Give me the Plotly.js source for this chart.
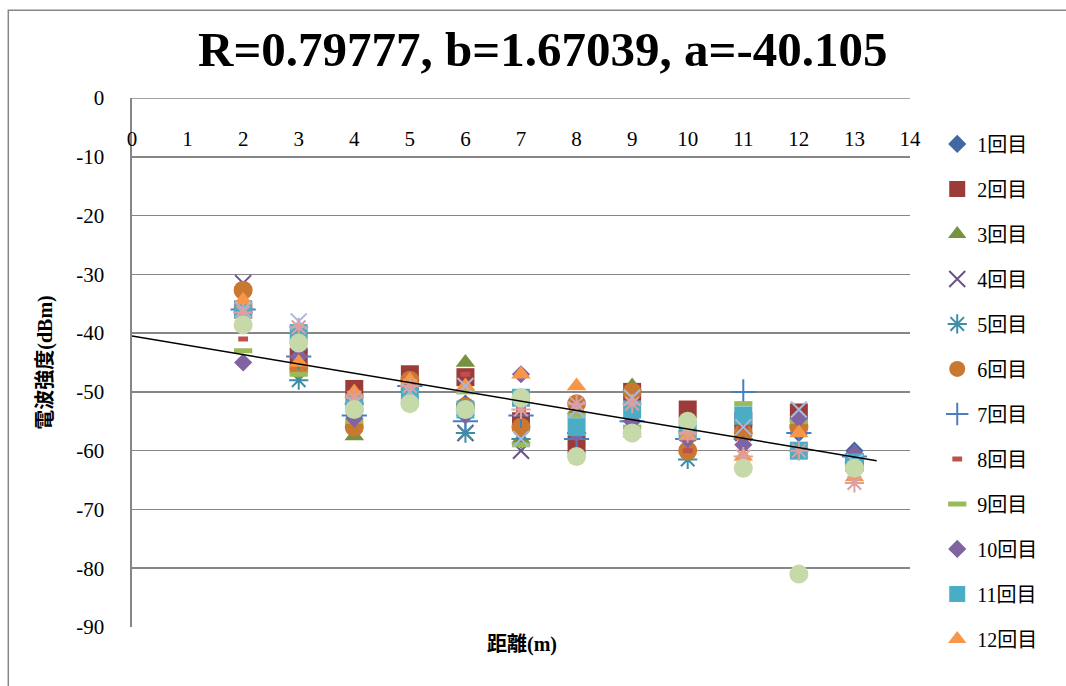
<!DOCTYPE html>
<html>
<head>
<meta charset="utf-8">
<script src="https://cdn.plot.ly/plotly-3.0.1.min.js"></script>
<style>html,body{margin:0;padding:0;background:#fff;}#chart{width:1066px;height:686px;}</style>
</head>
<body>
<div id="chart"></div>
<script>
var distances = [2, 3, 4, 5, 6, 7, 8, 9, 10, 11, 12, 13];

var run1  = [-35, -43, -54, -49, -52, -55, -59, -55, -57, -57, -57, -60];
var run2  = [-36, -44, -49.5, -47, -47.5, -55, -59, -50, -53, -55, -53.5, -62];
var run3  = [-35, -46, -57.5, -49, -45, -58, -53, -49, -56, -55, -55, -62];
var run4  = [-31.5, -44, -54, -50, -57, -60, -53, -55, -57, -57, -56, -62];
var run5  = [-36.5, -48, -52, -50, -57, -58, -57, -55, -61.5, -58, -60, -62];
var run6  = [-32.7, -46, -56, -48, -52.5, -56, -52, -50, -60, -57, -56, -62];
var run7  = [-36, -44, -54, -49, -55, -54, -58, -55, -58, -50, -57, -61];
var run8  = [-41, -45, -52, -48, -47, -53, -52, -57, -60, -56, -60, -62];
var run9  = [-43, -47, -55, -49, -50, -59, -54, -56, -57, -52, -55, -61];
var run10 = [-45, -44, -54.5, -49, -54, -47, -57, -55, -58, -59, -54.5, -60.5];
var run11 = [-36, -40, -52, -50.5, -53, -51, -56, -53, -56.5, -54, -60, -62];
var run12 = [-34.4, -45, -50, -48, -49, -47, -49, -57, -57.5, -61, -57, -64.5];
var run13 = [-36, -38, -52, -50, -49, -58, -53, -51, -56, -56, -53, -62];
var run14 = [-36.5, -39, -51, -49, -53, -53, -52, -52, -57, -61, -60, -65.5];
var run15 = [-38.6, -41.7, -53, -52, -53, -51, -61, -57, -55, -63, -81, -63];

var runNames = ['1回目','2回目','3回目','4回目','5回目','6回目','7回目','8回目','9回目','10回目','11回目','12回目','13回目','14回目','15回目'];

var trendX = [0, 13.4];
var trendY = [-40.5, -61.7];

var yTickVals = [0, -10, -20, -30, -40, -50, -60, -70, -80, -90];
var yTickLabels = ['0', '-10', '-20', '-30', '-40', '-50', '-60', '-70', '-80', '-90'];

var runValues = [run1, run2, run3, run4, run5, run6, run7, run8, run9, run10, run11, run12, run13, run14, run15];

var styles = [
  {symbol: 'diamond', color: '#3F69A0', size: 14},
  {symbol: 'square', color: '#9C3C39', size: 18},
  {symbol: 'triangle-up', color: '#76923F', size: 17},
  {symbol: 'x-thin-open', color: '#6A5388', size: 16, lw: 2},
  {symbol: 'asterisk-open', color: '#3C8EA5', size: 16, lw: 2},
  {symbol: 'circle', color: '#C8782F', size: 19},
  {symbol: 'cross-thin-open', color: '#4A7EC1', size: 18, lw: 2},
  {symbol: 'line-ew-open', color: '#C0504D', size: 7, lw: 5},
  {symbol: 'line-ew-open', color: '#9BBB59', size: 13, lw: 5},
  {symbol: 'diamond', color: '#8064A2', size: 14},
  {symbol: 'square', color: '#4BACC6', size: 18},
  {symbol: 'triangle-up', color: '#F79646', size: 17},
  {symbol: 'x-thin-open', color: '#A7B9DC', size: 16, lw: 2},
  {symbol: 'asterisk-open', color: '#DDA09E', size: 16, lw: 2},
  {symbol: 'circle', color: '#C6D9A9', size: 19}
];

var serif = 'Liberation Serif, "Noto Sans CJK JP", serif';

var traces = runValues.map(function (vals, i) {
  var st = styles[i];
  var marker = {symbol: st.symbol, color: st.color, size: st.size};
  if (st.lw) { marker.line = {color: st.color, width: st.lw}; }
  else { marker.line = {width: 0}; }
  return {
    type: 'scatter', mode: 'markers', x: distances, y: vals,
    name: runNames[i], marker: marker, legendgroup: 'g' + i,
    showlegend: i < 12
  };
});

traces.push({
  type: 'scatter', mode: 'lines', x: trendX, y: trendY,
  line: {color: '#000', width: 1.5}, showlegend: false, hoverinfo: 'skip'
});

var layout = {
  width: 1066, height: 686,
  margin: {l: 132, r: 156, t: 98, b: 59},
  paper_bgcolor: '#fff', plot_bgcolor: '#fff',
  font: {family: serif, size: 21, color: '#000'},
  title: {
    text: 'R=0.79777, b=1.67039, a=-40.105',
    font: {family: serif, size: 49, color: '#000', weight: 'bold'},
    x: 0.528, xref: 'paper', xanchor: 'center',
    y: 1.068, yref: 'paper', yanchor: 'middle'
  },
  xaxis: {
    range: [0, 14], dtick: 1, tick0: 0,
    anchor: 'free', position: 1, side: 'bottom',
    showgrid: false, zeroline: false, showline: false,
    ticks: 'outside', ticklen: 22, tickcolor: 'rgba(0,0,0,0)',
    tickfont: {family: serif, size: 21, color: '#000'}
  },
  yaxis: {
    range: [-90, 0], tickvals: yTickVals, ticktext: yTickLabels,
    showgrid: true, gridcolor: '#868686', gridwidth: 1.6,
    zeroline: false, showline: true, linecolor: '#868686', linewidth: 1.6,
    ticks: 'outside', ticklen: 22, tickcolor: 'rgba(0,0,0,0)',
    tickfont: {family: serif, size: 21, color: '#000'},
    title: {text: '電波強度(dBm)', standoff: 18,
            font: {family: serif, size: 20, color: '#000', weight: 'bold'}}
  },
  legend: {
    x: 1.035, xanchor: 'left', y: 0.95, yanchor: 'top',
    font: {family: serif, size: 20, color: '#000'},
    traceorder: 'grouped', tracegroupgap: 16, itemwidth: 30,
    bgcolor: 'rgba(0,0,0,0)'
  },
  annotations: [{
    text: '距離(m)', xref: 'paper', yref: 'paper', x: 0.501, y: -0.034,
    xanchor: 'center', yanchor: 'middle', showarrow: false,
    font: {family: serif, size: 20, color: '#000', weight: 'bold'}
  }],
  shapes: [{
    type: 'rect', xref: 'paper', yref: 'paper',
    x0: -0.159, x1: 1.4, y0: -0.3, y1: 1.166,
    line: {color: '#868686', width: 1.5}, fillcolor: 'rgba(0,0,0,0)', layer: 'below'
  }, {
    type: 'line', xref: 'paper', yref: 'y', x0: 0, x1: 1, y0: 0, y1: 0,
    line: {color: '#868686', width: 1.6}, layer: 'below'
  }],
  showlegend: true
};

Plotly.newPlot('chart', traces, layout, {displayModeBar: false, staticPlot: true});
</script>
</body>
</html>
